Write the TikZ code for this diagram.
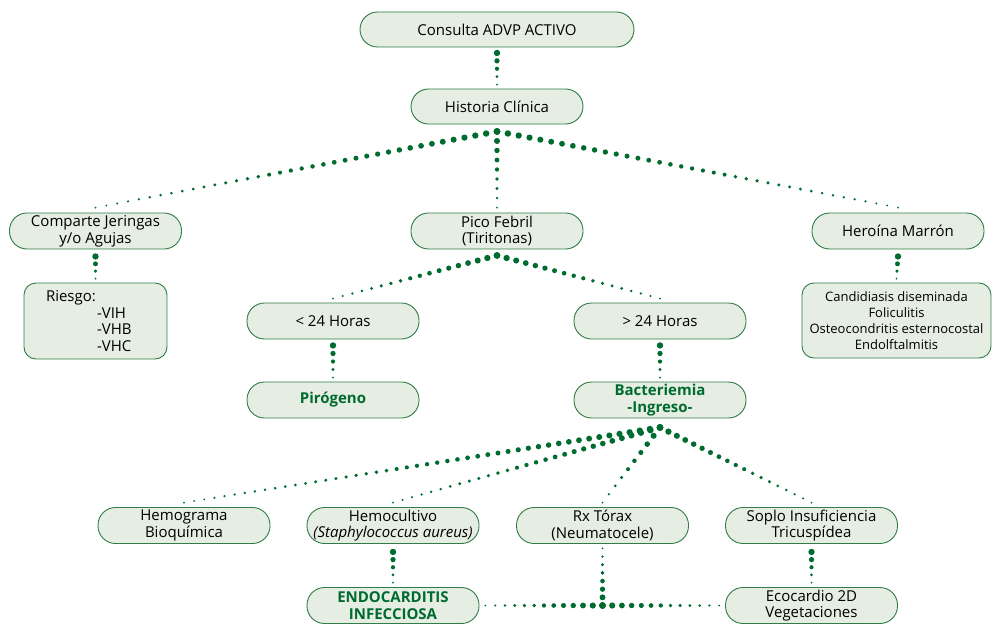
\documentclass[tikz,border=0pt]{standalone}
\usepackage{fontspec}
\setmainfont{Open Sans}
\usetikzlibrary{calc}
\definecolor{dotc}{HTML}{006B2E}
\definecolor{boxc}{HTML}{2E7D46}
\definecolor{fillc}{HTML}{E6EDE3}
\newcommand\taperdots[5]{%
  \foreach \i in {0,...,#3}{%
    \pgfmathsetmacro\rr{#4+(#5-#4)*\i/#3}%
    \fill[dotc] ($(#1)!\i/#3!(#2)$) circle[radius=\rr pt];
  }}
\begin{document}
\begin{tikzpicture}[x=1pt,y=-1pt,
  box/.style={draw=boxc, fill=fillc, line width=0.9pt, rounded corners=17.5pt,
    minimum width=172pt, minimum height=36pt, align=center, inner sep=0pt,
    font=\fontsize{15}{16.6}\selectfont},
  box2/.style={box, rounded corners=12pt},
  hl/.style={font=\fontsize{15}{16.6}\selectfont\bfseries, text=dotc}]
\useasboundingbox (0,0) rectangle (992,642);

\node[box, minimum width=274pt, minimum height=35pt] (consulta) at (497,29.5) {Consulta ADVP ACTIVO};
\node[box, minimum height=35pt] (hist) at (497,106.5) {Historia Clínica};
\node[box] (comp) at (95.5,231) {Comparte Jeringas\\y/o Agujas};
\node[box2, minimum width=143pt, minimum height=76pt, text width=99pt, align=left, inner xsep=22pt] (riesgo) at (95.5,321)
  {Riesgo:\\\hspace*{51pt}-VIH\\\hspace*{51pt}-VHB\\\hspace*{51pt}-VHC};
\node[box] (pico) at (497,231) {Pico Febril\\(Tiritonas)};
\node[box] (hero) at (898,231) {Heroína Marrón};
\node[box2, minimum width=189pt, minimum height=75pt, font=\fontsize{13}{16.2}\selectfont] (cand) at (896.5,320.5)
  {Candidiasis diseminada\\Foliculitis\\Osteocondritis esternocostal\\Endolftalmitis};
\node[box] (menos) at (333,321) {< 24 Horas};
\node[box] (mas) at (660,321) {> 24 Horas};
\node[box, hl] (piro) at (333,400) {Pirógeno};
\node[box, hl] (bact) at (660,400) {Bacteriemia\\-Ingreso-};
\node[box] (hemog) at (184,525.5) {Hemograma\\Bioquímica};
\node[box] (hemoc) at (393,525.5) {Hemocultivo\\\textit{(Staphylococcus aureus)}};
\node[box] (rx) at (602.5,525.5) {Rx Tórax\\(Neumatocele)};
\node[box] (soplo) at (811.5,525.5) {Soplo Insuficiencia\\Tricuspídea};
\node[box, hl] (endo) at (393,605.5) {ENDOCARDITIS\\INFECCIOSA};
\node[box] (eco) at (811.5,605.5) {Ecocardio 2D\\Vegetaciones};

% anchor points of connectors
\coordinate (c1) at ($(consulta.south)+(0,5.5)$);
\coordinate (c2) at ($(hist.north)+(0,-4)$);
\coordinate (hA) at ($(hist.south)+(0,7)$);
\coordinate (compT) at ($(comp.north)+(0,-5)$);
\coordinate (picoT) at ($(pico.north)+(0,-5)$);
\coordinate (heroT) at ($(hero.north)+(0,-5)$);
\coordinate (compB) at ($(comp.south)+(0,7)$);
\coordinate (riesgoT) at ($(riesgo.north)+(0,-4)$);
\coordinate (heroB) at ($(hero.south)+(0,7)$);
\coordinate (candT) at ($(cand.north)+(0,-4)$);
\coordinate (pA) at ($(pico.south)+(0,6)$);
\coordinate (menosT) at ($(menos.north)+(0,-4)$);
\coordinate (masT) at ($(mas.north)+(0,-4)$);
\coordinate (menosB) at ($(menos.south)+(0,6)$);
\coordinate (piroT) at ($(piro.north)+(0,-4)$);
\coordinate (masB) at ($(mas.south)+(0,6)$);
\coordinate (bactT) at ($(bact.north)+(0,-4)$);
\coordinate (bA) at ($(bact.south)+(0,9)$);
\coordinate (hemogT) at ($(hemog.north)+(0,-4.5)$);
\coordinate (hemocT) at ($(hemoc.north)+(0,-4.5)$);
\coordinate (rxT) at ($(rx.north)+(0,-4.5)$);
\coordinate (soploT) at ($(soplo.north)+(0,-4.5)$);
\coordinate (hemocB) at ($(hemoc.south)+(0,8)$);
\coordinate (endoT) at ($(endo.north)+(0,-4.5)$);
\coordinate (soploB) at ($(soplo.south)+(0,8)$);
\coordinate (ecoT) at ($(eco.north)+(0,-4.5)$);
\coordinate (rxB) at ($(rx.south)+(0,4.5)$);
\coordinate (J) at (rx.south |- endo.east);
\coordinate (endoE) at ($(endo.east)+(6,0)$);
\coordinate (ecoW) at ($(eco.west)+(-6,0)$);

% connectors
\taperdots{c1}{c2}{4}{3.2}{1.0}
\taperdots{hA}{compT}{37}{3.3}{1.0}
\taperdots{hA}{picoT}{8}{3.3}{1.0}
\taperdots{hA}{heroT}{37}{3.3}{1.0}
\taperdots{compB}{riesgoT}{3}{3.2}{1.0}
\taperdots{heroB}{candT}{3}{3.2}{1.0}
\taperdots{pA}{menosT}{17}{3.3}{1.0}
\taperdots{pA}{masT}{17}{3.3}{1.0}
\taperdots{menosB}{piroT}{4}{3.2}{1.0}
\taperdots{masB}{bactT}{4}{3.2}{1.0}
\taperdots{bA}{hemogT}{47}{3.3}{1.0}
\taperdots{bA}{hemocT}{28}{3.3}{1.0}
\taperdots{bA}{rxT}{9}{3.3}{1.0}
\taperdots{bA}{soploT}{18}{3.3}{1.0}
\taperdots{hemocB}{endoT}{4}{3.2}{1.0}
\taperdots{soploB}{ecoT}{4}{3.2}{1.0}
\taperdots{J}{rxB}{7}{3.3}{1.0}
\taperdots{J}{endoE}{12}{3.3}{1.0}
\taperdots{J}{ecoW}{12}{3.3}{1.0}
\end{tikzpicture}
\end{document}
